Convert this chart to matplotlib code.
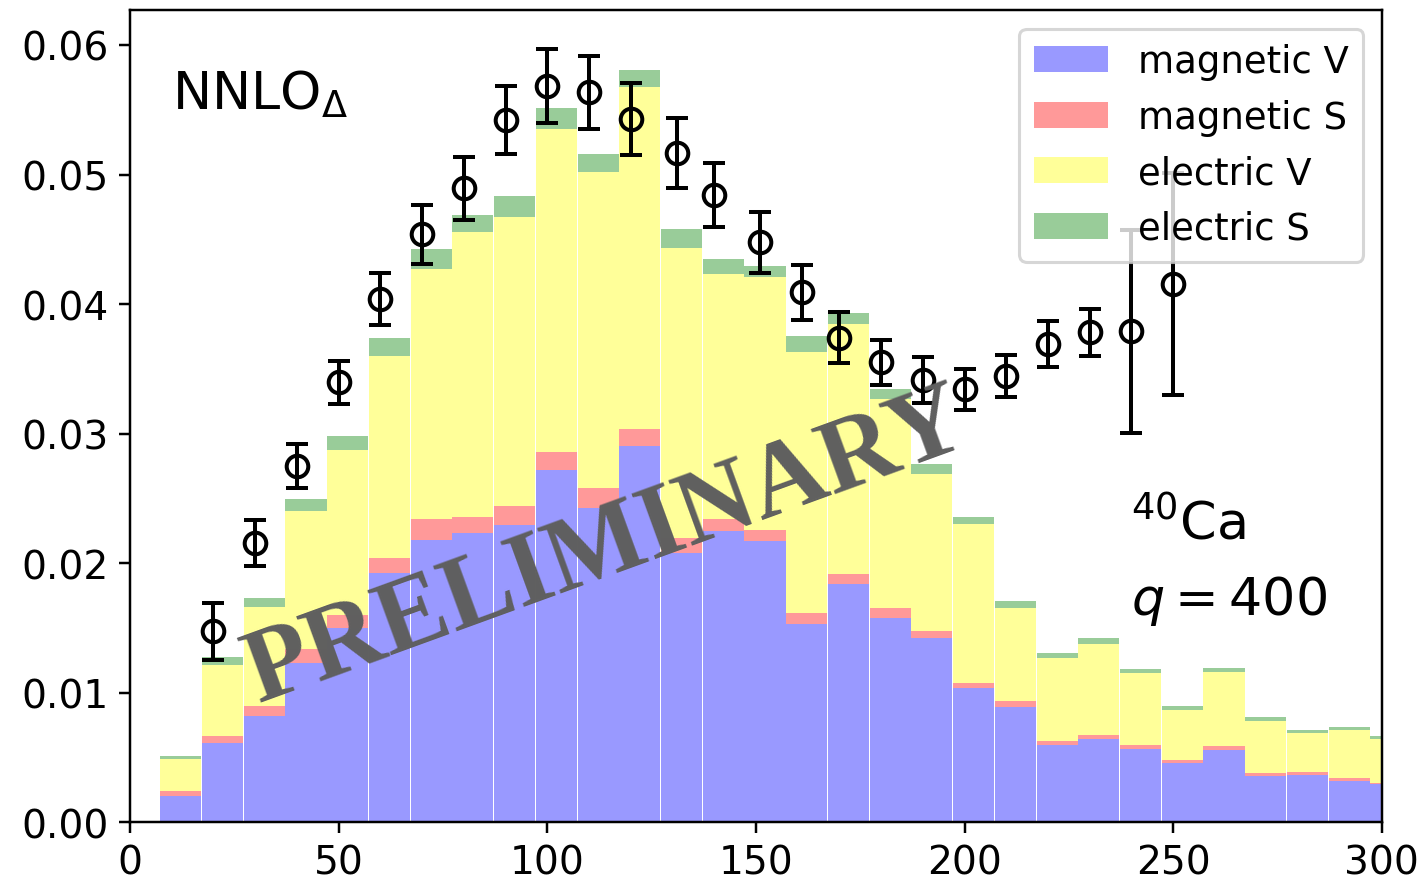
import numpy as np
import matplotlib
matplotlib.use("Agg")
import matplotlib.pyplot as plt

# ---- data ----
bin_left = [7.25 + 10 * i for i in range(30)]
bin_width = 10.0

magnetic_V = [0.00205, 0.00611, 0.00824, 0.01229, 0.01499, 0.01922, 0.02180, 0.02236,
              0.02298, 0.02723, 0.02427, 0.02903, 0.02082, 0.02250, 0.02170, 0.01530,
              0.01840, 0.01580, 0.01424, 0.01038, 0.00894, 0.00598, 0.00644, 0.00570,
              0.00461, 0.00557, 0.00361, 0.00369, 0.00323, 0.00295]
magnetic_S = [0.00036, 0.00059, 0.00073, 0.00110, 0.00105, 0.00123, 0.00162, 0.00124,
              0.00145, 0.00136, 0.00154, 0.00134, 0.00111, 0.00090, 0.00087, 0.00087,
              0.00078, 0.00075, 0.00054, 0.00039, 0.00044, 0.00033, 0.00031, 0.00030,
              0.00021, 0.00033, 0.00023, 0.00021, 0.00020, 0.00012]
electric_V = [0.00251, 0.00548, 0.00764, 0.01065, 0.01271, 0.01558, 0.01930, 0.02199,
              0.02232, 0.02493, 0.02441, 0.02641, 0.02238, 0.01895, 0.01955, 0.02016,
              0.01931, 0.01615, 0.01214, 0.01227, 0.00720, 0.00639, 0.00705, 0.00556,
              0.00388, 0.00574, 0.00399, 0.00303, 0.00373, 0.00337]
electric_S = [0.00021, 0.00057, 0.00072, 0.00092, 0.00108, 0.00136, 0.00154, 0.00129,
              0.00160, 0.00162, 0.00137, 0.00129, 0.00149, 0.00114, 0.00083, 0.00121,
              0.00083, 0.00075, 0.00075, 0.00054, 0.00051, 0.00038, 0.00044, 0.00029,
              0.00029, 0.00028, 0.00031, 0.00021, 0.00021, 0.00024]

data_x = [20, 30, 40, 50, 60, 70, 80, 90, 100, 110, 120, 131, 140, 151, 161,
          170, 180, 190, 200, 210, 220, 230, 240, 250]
data_y = [0.01476, 0.02157, 0.02753, 0.03397, 0.04040, 0.04538, 0.04894, 0.05421,
          0.05686, 0.05635, 0.05429, 0.05164, 0.04843, 0.04478, 0.04092, 0.03740,
          0.03551, 0.03415, 0.03342, 0.03446, 0.03693, 0.03783, 0.03791, 0.04156]
data_err = [0.00220, 0.00174, 0.00170, 0.00164, 0.00200, 0.00229, 0.00242, 0.00260,
            0.00286, 0.00280, 0.00280, 0.00270, 0.00250, 0.00235, 0.00212, 0.00196,
            0.00175, 0.00179, 0.00161, 0.00165, 0.00175, 0.00180, 0.00782, 0.00858]

labels = ["magnetic V", "magnetic S", "electric V", "electric S"]
colors = ["b", "r", "yellow", "g"]

# ---- plot ----
fig = plt.figure(figsize=(6.4, 3.977), dpi=222)
ax = fig.add_axes([0.0915, 0.0674, 0.8811, 0.9202])

series = [magnetic_V, magnetic_S, electric_V, electric_S]
bottom = np.zeros(len(bin_left))
for vals, lab, col in zip(series, labels, colors):
    v = np.array(vals)
    ax.bar(bin_left, v, width=bin_width * 0.985, bottom=bottom, align="edge",
           color=col, alpha=0.4, label=lab, linewidth=0)
    bottom = bottom + v

ax.errorbar(data_x, data_y, yerr=data_err, fmt="o", mfc="none", mec="k",
            color="k", ms=7, mew=1.3, elinewidth=1.3, capsize=3.5, capthick=1.3)

ax.set_xlim(0, 300)
ax.set_ylim(0, 0.0627)
ax.set_xticks([0, 50, 100, 150, 200, 250, 300])
ax.set_yticks([0.0, 0.01, 0.02, 0.03, 0.04, 0.05, 0.06])
ax.set_yticklabels(["0.00", "0.01", "0.02", "0.03", "0.04", "0.05", "0.06"])
ax.tick_params(labelsize=12.7)

ax.text(10, 0.0551, r"NNLO$_\Delta$", fontsize=17)
ax.text(240, 0.0219, r"$^{40}$Ca", fontsize=17)
ax.text(240, 0.0161, r"$q = 400$", fontsize=17)

ax.text(114, 0.0212, "PRELIMINARY", fontsize=34, fontweight="bold",
        family="Liberation Serif", color="#5f5f5f", rotation=20,
        ha="center", va="center", rotation_mode="anchor", zorder=5)

ax.legend(loc="upper right", fontsize=12)

fig.savefig("out.png", dpi=222)
